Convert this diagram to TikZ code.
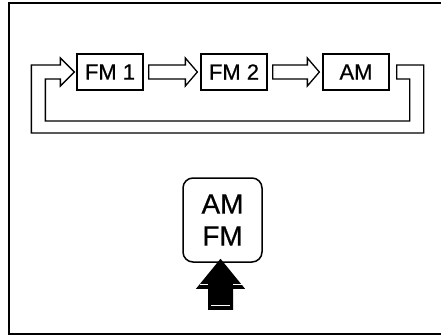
\documentclass[tikz,border=0pt]{standalone}
\usepackage{fontspec}
\setmainfont{Liberation Sans}
\newfontfamily\labelfont[FakeBold=0.6]{Liberation Sans}
\usetikzlibrary{calc}

\begin{document}
\begin{tikzpicture}[
    x=1pt, y=-1pt,
    band/.style={draw=black, line width=1.3pt, fill=white, line join=miter},
    modebox/.style={rectangle, draw=black, line width=1.3pt, minimum width=66pt, minimum height=36pt, inner sep=0pt, font=\labelfont\fontsize{22}{26}\selectfont},
    button/.style={rectangle, draw=black, line width=1.5pt, rounded corners=10pt, minimum width=79pt, minimum height=84pt, inner sep=0pt, align=center, font=\labelfont\fontsize{28}{32}\selectfont},
    frame/.style={line width=2pt}
]
    \useasboundingbox (0,0) rectangle (441,335);
    \draw[frame] (441,3) -- (9,3) -- (9,334) -- (441,334);

    \node[modebox] (fm1) at (110,72) {FM 1};
    \node[modebox] (fm2) at (234,72) {FM 2};
    \node[modebox] (am) at (356,72) {AM};

    % hollow arrows between the modes
    \foreach \a/\b in {fm1/fm2, fm2/am}
        \draw[band] ($(\a.east)+(5,-7)$) -- ($(\b.west)+(-15,-7)$) -- ($(\b.west)+(-15,-14)$) -- ($(\b.west)+(-3,0)$)
            -- ($(\b.west)+(-15,14)$) -- ($(\b.west)+(-15,7)$) -- ($(\a.east)+(5,7)$) -- cycle;

    % return loop from AM back to FM 1
    \draw[band] ($(am.east)+(7,-7)$) -- ($(am.east)+(34,-7)$) -- ($(am.east)+(34,61)$) -- ($(fm1.west)+(-45,61)$)
        -- ($(fm1.west)+(-45,-7)$) -- ($(fm1.west)+(-16,-7)$) -- ($(fm1.west)+(-16,-14)$) -- ($(fm1.west)+(-2,0)$)
        -- ($(fm1.west)+(-16,14)$) -- ($(fm1.west)+(-16,7)$) -- ($(fm1.west)+(-31,7)$) -- ($(fm1.west)+(-31,49)$)
        -- ($(am.east)+(20,49)$) -- ($(am.east)+(20,7)$) -- ($(am.east)+(7,7)$) -- cycle;

    \node[button] (band_btn) at (222.5,220) {AM\\FM};

    % push arrow
    \coordinate (push) at ($(band_btn.south)+(-2,0)$);
    \fill ($(push)+(0,-4)$) -- ($(push)+(24.5,26)$) -- ($(push)+(12.5,26)$) -- ($(push)+(12.5,47)$)
        -- ($(push)+(-12.5,47)$) -- ($(push)+(-12.5,26)$) -- ($(push)+(-24.5,26)$) -- cycle;
    \draw[white, line width=1.3pt] ($(push)+(-21,22)$) -- ($(push)+(-12.5,22)$);
    \draw[white, line width=1.3pt] ($(push)+(12.5,22)$) -- ($(push)+(21,22)$);
    \draw[white, line width=1.3pt] ($(push)+(-9.5,43)$) -- ($(push)+(9.5,43)$);
\end{tikzpicture}
\end{document}
